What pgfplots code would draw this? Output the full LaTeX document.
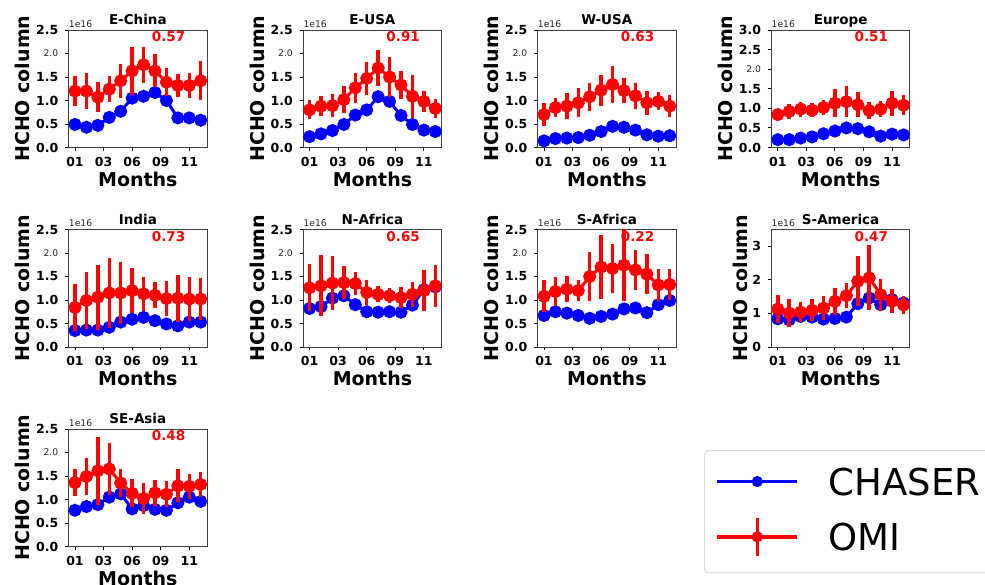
\documentclass[border=0pt]{standalone}
\usepackage{fontspec}
\setmainfont{DejaVu Sans}
\usepackage{pgfplots}
\pgfplotsset{compat=1.18}

\newcommand{\tl}{\fontsize{12.5}{14}\selectfont\bfseries}
\newcommand{\sm}[1]{{\mdseries\fontsize{9.2}{10}\selectfont\color{black!85}#1}}
\newcommand{\extras}[1]{%
  \node[anchor=base west, inner sep=0pt, font=\fontsize{9.2}{10}\selectfont\mdseries, text=black!85, yshift=2.7pt] at (rel axis cs:0,1) {1e16};
  \node[anchor=base west, inner sep=0pt, font=\fontsize{13.5}{16}\selectfont\bfseries, text=red] at (rel axis cs:0.6,0.9) {#1};
}

\pgfplotsset{
 panel/.style={
  scale only axis, width=138.3pt, height=117.5pt,
  xmin=-0.55, xmax=11.55, ymin=0, ymax=2.5,
  xtick={0,2.5,5,7.5,10}, xticklabels={01,03,06,09,11},
  ytick={0,0.5,1,1.5,2,2.5},
  yticklabels={0.0,0.5,1.0,1.5,\sm{2.0},2.5},
  tick align=outside, xtick pos=bottom, ytick pos=left,
  major tick length=3.5pt,
  axis line style={black!75, line width=0.9pt},
  tick style={black, line width=0.9pt},
  ticklabel style={font=\tl},
  xticklabel style={inner sep=0pt, anchor=north, yshift=-6pt},
  yticklabel style={inner sep=0pt, anchor=east, xshift=-6.8pt},
  xlabel={Months}, ylabel={HCHO column},
  every axis x label/.style={at={(axis description cs:0.5,0)}, anchor=base, yshift=-39pt, inner sep=0pt, font=\fontsize{19}{22}\selectfont\bfseries},
  every axis y label/.style={at={(axis description cs:-0.278,0.5)}, rotate=90, anchor=south, inner sep=0pt, font=\fontsize{19}{22}\selectfont\bfseries},
  every axis title/.style={at={(axis description cs:0.5,1)}, anchor=base, yshift=5pt, inner sep=0pt, font=\fontsize{13.5}{16}\selectfont\bfseries},
  clip mode=individual,
 },
 chaser/.style={blue, line width=3pt, mark=*, mark size=5pt, mark options={draw=none, fill=blue}},
 omi/.style={red, line width=3pt, mark=*, mark size=5pt, mark options={draw=none, fill=red},
   error bars/.cd, y dir=both, y explicit, error mark=none, error bar style={line width=3.5pt, red}},
}

\begin{document}
\begin{tikzpicture}
\useasboundingbox (0pt,0pt) rectangle (985pt,585pt);

% ---------- Row 1 ----------
\begin{axis}[panel, at={(68.7pt,555pt)}, anchor=north west, title={E-China}]
\addplot[chaser] coordinates {(0,0.49)(1,0.43)(2,0.47)(3,0.64)(4,0.77)(5,1.05)(6,1.09)(7,1.17)(8,1.0)(9,0.63)(10,0.63)(11,0.58)};
\addplot[omi] coordinates {(0,1.20)+-(0,0.32)(1,1.20)+-(0,0.38)(2,1.07)+-(0,0.32)(3,1.24)+-(0,0.28)(4,1.42)+-(0,0.36)(5,1.63)+-(0,0.51)(6,1.76)+-(0,0.38)(7,1.63)+-(0,0.35)(8,1.39)+-(0,0.30)(9,1.32)+-(0,0.25)(10,1.32)+-(0,0.27)(11,1.42)+-(0,0.41)};
\extras{0.57}
\end{axis}

\begin{axis}[panel, at={(303.3pt,555pt)}, anchor=north west, title={E-USA}]
\addplot[chaser] coordinates {(0,0.23)(1,0.29)(2,0.36)(3,0.49)(4,0.69)(5,0.80)(6,1.08)(7,0.98)(8,0.68)(9,0.49)(10,0.37)(11,0.34)};
\addplot[omi] coordinates {(0,0.80)+-(0,0.20)(1,0.88)+-(0,0.21)(2,0.89)+-(0,0.25)(3,1.02)+-(0,0.29)(4,1.27)+-(0,0.32)(5,1.47)+-(0,0.35)(6,1.69)+-(0,0.38)(7,1.50)+-(0,0.42)(8,1.33)+-(0,0.30)(9,1.09)+-(0,0.46)(10,0.98)+-(0,0.22)(11,0.83)+-(0,0.21)};
\extras{0.91}
\end{axis}

\begin{axis}[panel, at={(537.7pt,555pt)}, anchor=north west, title={W-USA}]
\addplot[chaser] coordinates {(0,0.14)(1,0.19)(2,0.20)(3,0.21)(4,0.26)(5,0.34)(6,0.45)(7,0.43)(8,0.37)(9,0.27)(10,0.24)(11,0.25)};
\addplot[omi] coordinates {(0,0.70)+-(0,0.24)(1,0.85)+-(0,0.21)(2,0.88)+-(0,0.27)(3,0.95)+-(0,0.31)(4,1.08)+-(0,0.30)(5,1.22)+-(0,0.33)(6,1.34)+-(0,0.40)(7,1.21)+-(0,0.26)(8,1.10)+-(0,0.28)(9,0.95)+-(0,0.26)(10,0.98)+-(0,0.19)(11,0.88)+-(0,0.23)};
\extras{0.63}
\end{axis}

\begin{axis}[panel, at={(771.5pt,555pt)}, anchor=north west, title={Europe}, ymax=3,
  ytick={0,0.5,1,1.5,2,2.5,3}, yticklabels={0.0,0.5,1.0,1.5,\sm{2.0},2.5,3.0}]
\addplot[chaser] coordinates {(0,0.20)(1,0.20)(2,0.24)(3,0.27)(4,0.35)(5,0.42)(6,0.50)(7,0.48)(8,0.40)(9,0.29)(10,0.34)(11,0.32)};
\addplot[omi] coordinates {(0,0.84)+-(0,0.15)(1,0.92)+-(0,0.19)(2,0.98)+-(0,0.19)(3,0.95)+-(0,0.18)(4,1.02)+-(0,0.19)(5,1.13)+-(0,0.36)(6,1.17)+-(0,0.39)(7,1.09)+-(0,0.32)(8,0.94)+-(0,0.22)(9,0.98)+-(0,0.20)(10,1.13)+-(0,0.32)(11,1.08)+-(0,0.26)};
\extras{0.51}
\end{axis}

% ---------- Row 2 ----------
\begin{axis}[panel, at={(68.7pt,355.5pt)}, anchor=north west, title={India}]
\addplot[chaser] coordinates {(0,0.35)(1,0.36)(2,0.36)(3,0.42)(4,0.53)(5,0.59)(6,0.63)(7,0.56)(8,0.49)(9,0.45)(10,0.53)(11,0.53)};
\addplot[omi] coordinates {(0,0.84)+-(0,0.50)(1,0.99)+-(0,0.60)(2,1.06)+-(0,0.69)(3,1.15)+-(0,0.75)(4,1.15)+-(0,0.66)(5,1.20)+-(0,0.48)(6,1.13)+-(0,0.36)(7,1.10)+-(0,0.28)(8,1.03)+-(0,0.38)(9,1.04)+-(0,0.50)(10,1.02)+-(0,0.47)(11,1.02)+-(0,0.45)};
\extras{0.73}
\end{axis}

\begin{axis}[panel, at={(303.3pt,355.5pt)}, anchor=north west, title={N-Africa}]
\addplot[chaser] coordinates {(0,0.82)(1,0.86)(2,1.04)(3,1.09)(4,0.90)(5,0.75)(6,0.74)(7,0.75)(8,0.74)(9,0.89)(10,1.22)(11,1.28)};
\addplot[omi] coordinates {(0,1.26)+-(0,0.50)(1,1.30)+-(0,0.65)(2,1.36)+-(0,0.58)(3,1.37)+-(0,0.35)(4,1.35)+-(0,0.25)(5,1.16)+-(0,0.27)(6,1.12)+-(0,0.17)(7,1.09)+-(0,0.16)(8,1.05)+-(0,0.22)(9,1.12)+-(0,0.27)(10,1.20)+-(0,0.44)(11,1.30)+-(0,0.45)};
\extras{0.65}
\end{axis}

\begin{axis}[panel, at={(537.7pt,355.5pt)}, anchor=north west, title={S-Africa}]
\addplot[chaser] coordinates {(0,0.67)(1,0.75)(2,0.72)(3,0.67)(4,0.61)(5,0.65)(6,0.70)(7,0.81)(8,0.83)(9,0.73)(10,0.90)(11,0.99)};
\addplot[omi] coordinates {(0,1.08)+-(0,0.34)(1,1.18)+-(0,0.31)(2,1.23)+-(0,0.28)(3,1.20)+-(0,0.22)(4,1.50)+-(0,0.52)(5,1.70)+-(0,0.68)(6,1.67)+-(0,0.53)(7,1.74)+-(0,0.76)(8,1.64)+-(0,0.43)(9,1.55)+-(0,0.43)(10,1.32)+-(0,0.35)(11,1.33)+-(0,0.33)};
\extras{0.22}
\end{axis}

\begin{axis}[panel, at={(771.5pt,355.5pt)}, anchor=north west, title={S-America}, ymax=3.5,
  ytick={0,1,2,3}, yticklabels={0,1,2,3},
  every axis y label/.append style={at={(axis description cs:-0.1735,0.5)}}]
\addplot[chaser] coordinates {(0,0.84)(1,0.81)(2,0.91)(3,0.89)(4,0.83)(5,0.85)(6,0.89)(7,1.29)(8,1.46)(9,1.26)(10,1.41)(11,1.31)};
\addplot[omi] coordinates {(0,1.13)+-(0,0.43)(1,1.01)+-(0,0.41)(2,1.04)+-(0,0.30)(3,1.09)+-(0,0.33)(4,1.16)+-(0,0.37)(5,1.36)+-(0,0.40)(6,1.53)+-(0,0.37)(7,1.96)+-(0,0.75)(8,2.06)+-(0,0.97)(9,1.56)+-(0,0.48)(10,1.36)+-(0,0.36)(11,1.25)+-(0,0.27)};
\extras{0.47}
\end{axis}

% ---------- Row 3 ----------
\begin{axis}[panel, at={(68.7pt,156pt)}, anchor=north west, title={SE-Asia},
  legend style={at={(axis description cs:4.594,0.821)}, anchor=north west,
    draw=black!15, line width=1pt, rounded corners=4pt, fill=white,
    inner xsep=11pt, inner ysep=10.5pt, row sep=14pt,
    font=\fontsize{37}{44}\selectfont\mdseries,
    nodes={inner sep=0pt, text depth=0pt}},
  legend cell align=left]
\addplot[legend image code/.code={
  \draw[blue, line width=3pt] (0pt,0pt) -- (80pt,0pt);
  \fill[blue] (40pt,0pt) circle (4pt);
  \path (0pt,-19pt) (110pt,19pt);}, chaser]
 coordinates {(0,0.77)(1,0.85)(2,0.89)(3,1.05)(4,1.12)(5,0.80)(6,0.87)(7,0.79)(8,0.77)(9,0.93)(10,1.05)(11,0.96)};
\addlegendentry{CHASER}
\addplot[legend image code/.code={
  \draw[red, line width=3.5pt] (0pt,0pt) -- (80pt,0pt);
  \draw[red, line width=3.5pt] (40pt,-19pt) -- (40pt,19pt);
  \fill[red] (40pt,0pt) circle (4pt);
  \path (0pt,-24pt) (110pt,19pt);}, omi]
 coordinates {(0,1.36)+-(0,0.28)(1,1.49)+-(0,0.40)(2,1.61)+-(0,0.73)(3,1.65)+-(0,0.56)(4,1.35)+-(0,0.29)(5,1.13)+-(0,0.30)(6,1.02)+-(0,0.33)(7,1.14)+-(0,0.28)(8,1.11)+-(0,0.28)(9,1.29)+-(0,0.35)(10,1.28)+-(0,0.26)(11,1.32)+-(0,0.26)};
\addlegendentry{OMI}
\extras{0.48}
\end{axis}
\end{tikzpicture}
\end{document}
